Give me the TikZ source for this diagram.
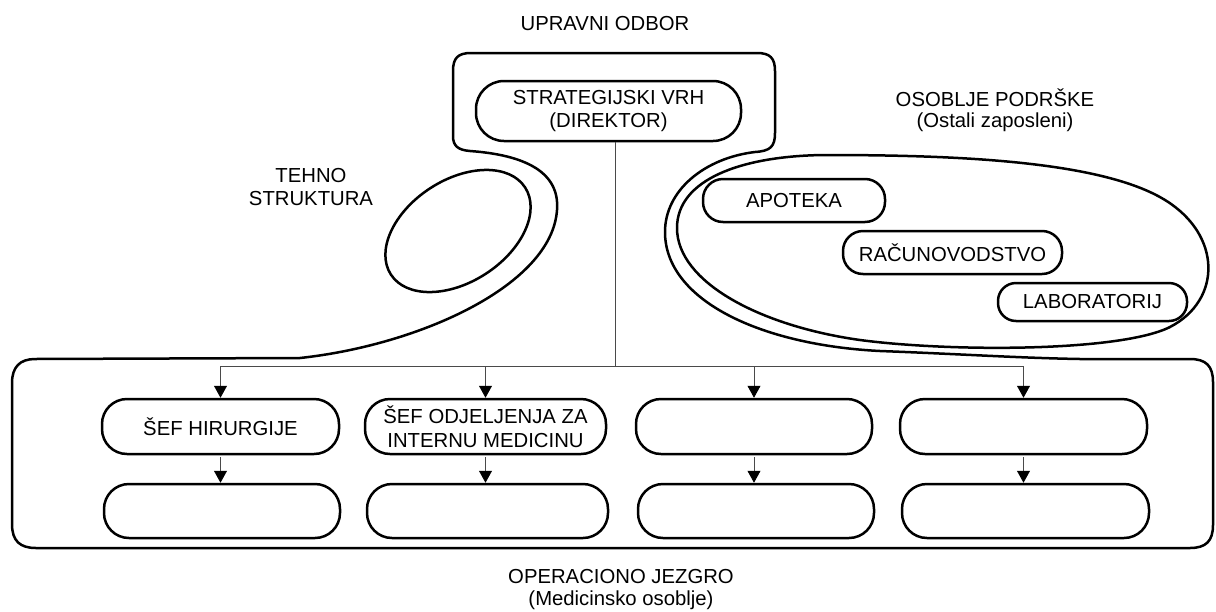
\documentclass[tikz,border=0pt]{standalone}
\usepackage{fontspec}
\setmainfont{Liberation Sans}
\usetikzlibrary{arrows.meta,shapes.geometric}
\definecolor{wire}{HTML}{4A4A4A}
\tikzset{
  every node/.style={font=\fontsize{20.3}{23.5}\selectfont, inner sep=0pt, align=center},
  outline/.style={line width=2.5pt, line join=round},
  pill/.style={draw, rectangle, line width=2.5pt, rounded corners=#1, fill=white},
  pill/.default=25pt,
  conn/.style={draw=wire, line width=0.9pt},
  arr/.style={conn, -{Triangle[width=13pt,length=12pt,color=black,fill=black]}},
  % anchored on the baseline of the last line
  caption/.style={anchor=base, font=\fontsize{20.3}{#1}\selectfont},
  caption/.default=22
}
\begin{document}
\begin{tikzpicture}[x=1pt,y=-1pt]
\useasboundingbox (0,0) rectangle (1216,611);

% one continuous boundary: strategic apex, technostructure bulge,
% support-staff wall and the operating core
\draw[outline] (35,359) -- (300,358)
  .. controls (420,345) and (552,285) .. (557,210)
  .. controls (560,172) and (525,155) .. (470,151)
  .. controls (458,150) and (453,146) .. (453,136)
  -- (453,71) .. controls (453,58) and (458,53) .. (471,53)
  -- (757,53) .. controls (770,53) and (775,58) .. (775,71)
  -- (775,133) .. controls (775,147) and (770,151) .. (755,152)
  .. controls (705,158) and (665,190) .. (665,232)
  .. controls (665,300) and (760,345) .. (880,351)
  .. controls (960,354) and (1020,358) .. (1080,359)
  -- (1190,359) .. controls (1206,359) and (1213,366) .. (1213,382)
  -- (1213,525) .. controls (1213,541) and (1206,548) .. (1190,548)
  -- (36,548) .. controls (20,548) and (12,541) .. (12,524)
  -- (12,383) .. controls (12,367) and (20,359) .. (35,359) -- cycle;

% support staff loop
\draw[outline] (824,155)
  .. controls (950,155) and (1100,160) .. (1165,200)
  .. controls (1222,235) and (1222,300) .. (1170,327)
  .. controls (1120,352) and (950,352) .. (860,340)
  .. controls (760,326) and (677,282) .. (677,228)
  .. controls (677,180) and (740,156) .. (824,155) -- cycle;

% technostructure
\node[draw, ellipse, line width=2.5pt, minimum width=160pt, minimum height=102pt, rotate=33] (tehno) at (458,231) {};

% labels
\node[caption] (odbor) at (605,30) {UPRAVNI ODBOR};
\node[caption=23] (tehnolbl) at (311,205) {TEHNO\\STRUKTURA};
\node[caption=21] (podrska) at (995,127.5) {OSOBLJE PODRŠKE\\(Ostali zaposleni)};
\node[caption=22] (jezgro) at (621,605) {OPERACIONO JEZGRO\\(Medicinsko osoblje)};

% strategic apex
\node[pill=28pt, minimum width=265pt, minimum height=60pt] (dir) at (608.5,111) {STRATEGIJSKI VRH\\(DIREKTOR)};

% support units
\node[pill=20pt, minimum width=182pt, minimum height=43pt] (apo) at (794,200.5) {APOTEKA};
\node[pill=20pt, minimum width=219pt, minimum height=43pt] (rac) at (952.5,252.5) {RAČUNOVODSTVO};
\node[pill=18pt, minimum width=189pt, minimum height=38pt] (lab) at (1092.5,302) {LABORATORIJ};

% operating core, first row
\node[pill, minimum width=237pt, minimum height=55pt] (t1) at (220.5,426.5) {ŠEF HIRURGIJE};
\node[pill, minimum width=241pt, minimum height=55pt] (t2) at (485.5,426.5) {ŠEF ODJELJENJA ZA\\INTERNU MEDICINU};
\node[pill, minimum width=236pt, minimum height=55pt] (t3) at (754,426.5) {};
\node[pill, minimum width=247pt, minimum height=55pt] (t4) at (1023.5,426.5) {};

% operating core, second row
\node[pill, minimum width=236pt, minimum height=54pt] (b1) at (222,511) {};
\node[pill, minimum width=241pt, minimum height=54pt] (b2) at (487.5,511) {};
\node[pill, minimum width=236pt, minimum height=54pt] (b3) at (756,511) {};
\node[pill, minimum width=247pt, minimum height=54pt] (b4) at (1025.5,511) {};

% line of authority
\coordinate (bus) at (615,366);
\draw[conn] (dir.south -| bus) -- (bus);
\draw[conn] (t1.north |- bus) -- (t4.north |- bus);
\foreach \i in {1,...,4} {
  \draw[arr] (t\i.north |- bus) -- (t\i.north);
  \draw[arr] ([yshift=-2pt]t\i.south) -- (t\i.south |- b\i.north);
}
\end{tikzpicture}
\end{document}
